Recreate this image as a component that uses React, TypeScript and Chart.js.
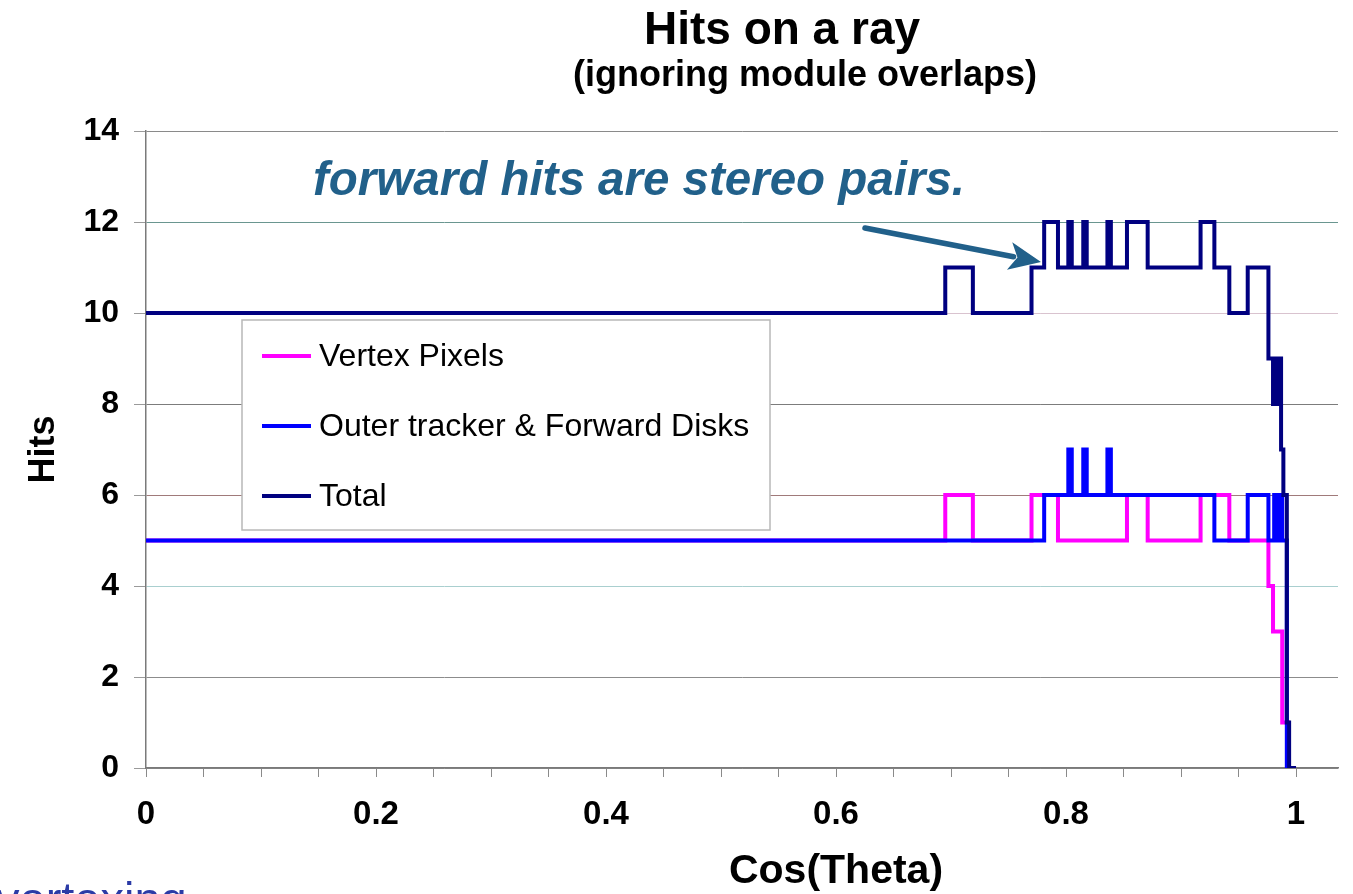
import React, { useEffect, useRef } from "react";
import { Chart, registerables } from "chart.js";
Chart.register(...registerables);

const TITLE = "Hits on a ray";
const SUBTITLE = "(ignoring module overlaps)";
const X_TITLE = "Cos(Theta)";
const Y_TITLE = "Hits";
const ANNOTATION = "forward hits are stereo pairs.";
const FOOTER_FRAGMENT = "vertexing";
const SERIES_NAMES = ["Vertex Pixels", "Outer tracker & Forward Disks", "Total"];

// Each (x, y) pair: the step value y begins at cos(theta) = x
const vertexX = [0, 0.695, 0.719, 0.770, 0.793, 0.853, 0.871, 0.917, 0.942, 0.976, 0.980, 0.988, 0.993, 1.0];
const vertexY = [5, 6, 5, 6, 5, 6, 5, 6, 5, 4, 3, 1, 0, 0];

const outerX = [0, 0.781, 0.802, 0.805, 0.815, 0.818, 0.836, 0.839, 0.929, 0.958, 0.976, 0.981, 0.983, 0.986, 0.988, 0.992, 1.0];
const outerY = [5, 6, 7, 6, 7, 6, 7, 6, 5, 6, 5, 6, 5, 6, 5, 0, 0];

const totalX = [0, 0.695, 0.719, 0.770, 0.781, 0.793, 0.802, 0.805, 0.815, 0.818, 0.836, 0.839, 0.853, 0.871, 0.917, 0.929, 0.942, 0.958, 0.976, 0.980, 0.982, 0.983, 0.984, 0.987, 0.989, 0.992, 0.994, 1.0];
const totalY = [10, 11, 10, 11, 12, 11, 12, 11, 12, 11, 12, 11, 12, 11, 12, 11, 10, 11, 9, 8, 9, 8, 9, 7, 6, 1, 0, 0];

const X_TICKS = [0, 0.05, 0.1, 0.15, 0.2, 0.25, 0.3, 0.35, 0.4, 0.45, 0.5, 0.55, 0.6, 0.65, 0.7, 0.75, 0.8, 0.85, 0.9, 0.95, 1.0];
const X_LABELED = [0, 0.2, 0.4, 0.6, 0.8, 1.0];
const X_LABELS = ["0", "0.2", "0.4", "0.6", "0.8", "1"];
const Y_MIN = 0;
const Y_MAX = 14;
const Y_STEP = 2;
const X_MIN = 0;
const X_MAX = 1.0365;

const COLORS = ["#ff00ff", "#0000ff", "#000080"];
const GRID_COLORS: Record<number, string> = {
  0: "#8a8a8a",
  2: "#8c8c8c",
  4: "#a9cfcf",
  6: "#a07a7a",
  8: "#7c7c7c",
  10: "#d9c3cf",
  12: "#6a9690",
  14: "#8a8a8a",
};

const FONT = "'Liberation Sans', Arial, sans-serif";

const zip = (xs: number[], ys: number[]) => xs.map((x, i) => ({ x, y: ys[i] }));

const overlayPlugin = {
  id: "overlay",
  afterDraw(chart: any) {
    const ctx = chart.ctx as CanvasRenderingContext2D;
    ctx.save();
    // titles
    ctx.fillStyle = "#000";
    ctx.textAlign = "center";
    ctx.textBaseline = "middle";
    ctx.font = `bold 46px ${FONT}`;
    ctx.fillText(TITLE, 782, 31);
    ctx.font = `bold 36px ${FONT}`;
    ctx.fillText(SUBTITLE, 805, 76);

    // x axis title
    ctx.font = `bold 41px ${FONT}`;
    ctx.fillText(X_TITLE, 836, 872);

    // annotation
    ctx.fillStyle = "#21608a";
    ctx.textAlign = "left";
    ctx.textBaseline = "alphabetic";
    ctx.font = `italic bold 47.5px ${FONT}`;
    ctx.fillText(ANNOTATION, 313, 195);

    // arrow
    const x0 = 865, y0 = 228, x1 = 1041, y1 = 262;
    const ang = Math.atan2(y1 - y0, x1 - x0);
    const headLen = 32, headW = 14;
    const bx = x1 - headLen * Math.cos(ang);
    const by = y1 - headLen * Math.sin(ang);
    ctx.strokeStyle = "#21608a";
    ctx.lineWidth = 5.5;
    ctx.lineCap = "round";
    ctx.beginPath();
    ctx.moveTo(x0, y0);
    ctx.lineTo(bx + 4 * Math.cos(ang), by + 4 * Math.sin(ang));
    ctx.stroke();
    ctx.beginPath();
    ctx.moveTo(x1, y1);
    ctx.lineTo(bx + headW * Math.sin(ang), by - headW * Math.cos(ang));
    ctx.lineTo(bx + 8 * Math.cos(ang), by + 8 * Math.sin(ang));
    ctx.lineTo(bx - headW * Math.sin(ang), by + headW * Math.cos(ang));
    ctx.closePath();
    ctx.fillStyle = "#21608a";
    ctx.fill();

    // legend
    ctx.fillStyle = "#ffffff";
    ctx.fillRect(242, 320, 528, 210);
    ctx.strokeStyle = "#b8b8b8";
    ctx.lineWidth = 1.5;
    ctx.strokeRect(242, 320, 528, 210);
    const rows = [356, 426, 496];
    chart.data.datasets.forEach((ds: any, i: number) => {
      const y = rows[i];
      ctx.strokeStyle = ds.borderColor;
      ctx.lineWidth = 4;
      ctx.lineCap = "butt";
      ctx.beginPath();
      ctx.moveTo(262, y);
      ctx.lineTo(311, y);
      ctx.stroke();
      ctx.fillStyle = "#000";
      ctx.font = `32px ${FONT}`;
      ctx.textBaseline = "middle";
      ctx.fillText(ds.label, 319, y + 1);
    });

    // cropped footer text fragment
    ctx.fillStyle = "#2b3ba6";
    ctx.font = `47px ${FONT}`;
    ctx.textBaseline = "alphabetic";
    ctx.fillText(FOOTER_FRAGMENT, -4, 915);
    ctx.restore();
  },
};

export default function App() {
  const ref = useRef<HTMLCanvasElement | null>(null);
  useEffect(() => {
    if (!ref.current) return;
    const chart = new Chart(ref.current, {
      type: "line",
      data: {
        datasets: [
          { label: SERIES_NAMES[0], data: zip(vertexX, vertexY), borderColor: COLORS[0], order: 2 },
          { label: SERIES_NAMES[1], data: zip(outerX, outerY), borderColor: COLORS[1], order: 1 },
          { label: SERIES_NAMES[2], data: zip(totalX, totalY), borderColor: COLORS[2], order: 0 },
        ].map((d) => ({
          ...d,
          stepped: "before" as const,
          borderWidth: 4,
          pointRadius: 0,
          fill: false,
          tension: 0,
          borderJoinStyle: "miter" as const,
        })),
      },
      options: {
        animation: false,
        responsive: false,
        devicePixelRatio: 1,
        layout: { padding: { top: 131, right: 15, left: 0, bottom: 0 } },
        plugins: {
          legend: { display: false },
          title: { display: false },
          tooltip: { enabled: false },
        },
        scales: {
          x: {
            type: "linear",
            min: X_MIN,
            max: X_MAX,
            afterFit: (s: any) => {
              s.height = 126;
            },
            afterBuildTicks: (s: any) => {
              s.ticks = X_TICKS.map((v) => ({ value: v }));
            },
            ticks: {
              autoSkip: false,
              maxRotation: 0,
              minRotation: 0,
              padding: 18,
              color: "#000",
              font: { family: FONT, size: 33, weight: "bold" },
              callback: (v: any) => {
                const idx = X_LABELED.findIndex((m) => Math.abs(m - Number(v)) < 1e-6);
                return idx >= 0 ? X_LABELS[idx] : "";
              },
            },
            grid: {
              drawOnChartArea: false,
              drawTicks: true,
              tickLength: 9,
              color: "#8a8a8a",
              lineWidth: 1,
            },
            border: { display: true, color: "#7a7a7a", width: 1.5 },
            title: { display: false, text: X_TITLE },
          },
          y: {
            type: "linear",
            min: Y_MIN,
            max: Y_MAX,
            afterFit: (s: any) => {
              s.width = 146;
            },
            ticks: {
              stepSize: Y_STEP,
              padding: 15,
              color: "#000",
              font: { family: FONT, size: 32, weight: "bold" },
            },
            grid: {
              drawTicks: true,
              tickLength: 12,
              color: (c: any) => GRID_COLORS[c.tick?.value] ?? "#8a8a8a",
              tickColor: "#9a9a9a",
              lineWidth: 1,
            },
            border: { display: true, color: "#7a7a7a", width: 1.5 },
            title: {
              display: true,
              text: Y_TITLE,
              color: "#000",
              font: { family: FONT, size: 36, weight: "bold" },
              padding: { top: 22, bottom: 0 },
            },
          },
        },
      },
      plugins: [overlayPlugin],
    });
    return () => chart.destroy();
  }, []);
  return (
    <div style={{ position: "absolute", left: 0, top: 0, width: 1353, height: 894, background: "#fff" }}>
      <canvas ref={ref} width={1353} height={894} style={{ width: 1353, height: 894, display: "block" }} />
    </div>
  );
}
